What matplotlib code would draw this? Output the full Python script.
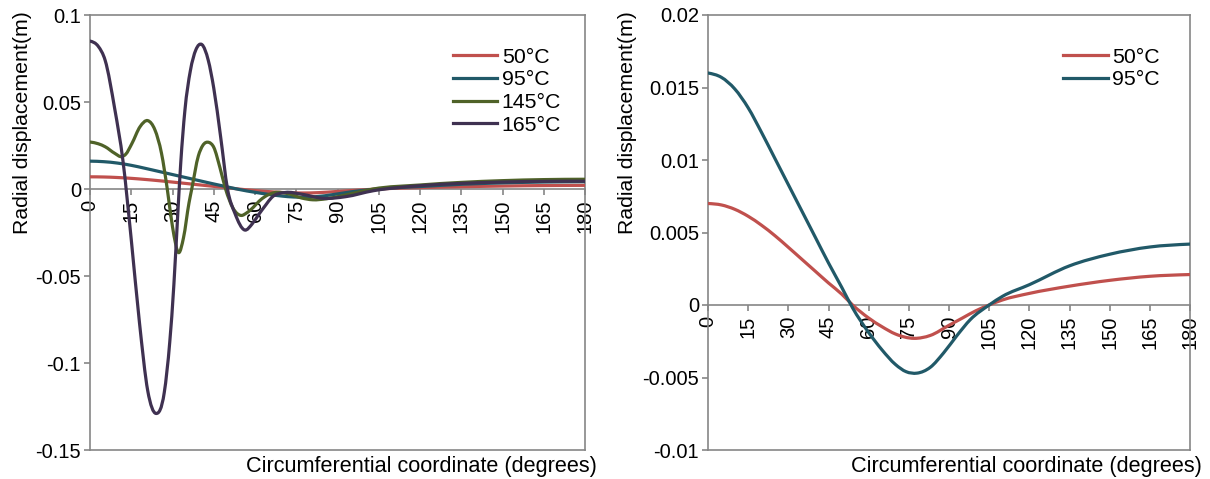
import numpy as np
import matplotlib.pyplot as plt
import matplotlib.lines as mlines
from matplotlib.path import Path
from matplotlib.patches import PathPatch
from matplotlib.ticker import FuncFormatter

plt.rcParams['font.family'] = ['Liberation Sans', 'DejaVu Sans']

# radial displacement vs circumferential angle (degrees)
angle_50 = [0, 5, 10, 15, 20, 25, 30, 35, 40, 45, 50, 54, 60, 65, 70, 77, 83,
            90, 95, 100, 105, 110, 120, 135, 150, 165, 180]
disp_50 = [0.0070, 0.0069, 0.0066, 0.00612, 0.0055, 0.00478, 0.00398, 0.00316,
           0.00234, 0.00152, 0.00074, 0.0, -0.0009, -0.0015, -0.0020, -0.0023,
           -0.0021, -0.0014, -0.0009, -0.0004, 0.0, 0.00035, 0.0008, 0.0013,
           0.0017, 0.00198, 0.0021]

angle_95 = [0, 5, 10, 15, 20, 25, 30, 35, 40, 45, 50, 54, 60, 65, 70, 74, 78,
            83, 88, 93, 98, 105, 110, 120, 135, 150, 165, 180]
disp_95 = [0.0160, 0.0157, 0.0149, 0.0136, 0.0119, 0.0101, 0.0083, 0.0065,
           0.0047, 0.0029, 0.0012, -0.0002, -0.0019, -0.0031, -0.0041, -0.0046,
           -0.0047, -0.0043, -0.0033, -0.0021, -0.0010, 0.0, 0.0006, 0.0014,
           0.0027, 0.0035, 0.0040, 0.0042]

angle_145 = [0, 3, 5.5, 9, 11.5, 13, 15.2, 18.2, 21, 23.6, 26, 28.1, 30, 32.3,
             34, 36, 37, 39.4, 41, 43.2, 45, 47.3, 49.3, 52, 55, 57, 59.4, 61.5,
             63.6, 67, 72, 77, 81, 86, 91, 97, 103, 120, 135, 150, 165, 180]
disp_145 = [0.027, 0.026, 0.0243, 0.0205, 0.0186, 0.020, 0.026, 0.0358, 0.0393,
            0.034, 0.0205, 0.0, -0.0217, -0.0366, -0.028, -0.008, 0.0, 0.019,
            0.025, 0.0268, 0.024, 0.012, 0.0, -0.011, -0.0152, -0.0137, -0.0105,
            -0.007, -0.0044, -0.0021, -0.0027, -0.0052, -0.0062, -0.0056,
            -0.0041, -0.0020, 0.0, 0.0023, 0.0038, 0.0048, 0.0054, 0.0056]

angle_165 = [0, 3, 5.5, 9, 12, 15, 18, 21, 24, 27, 29, 30.5, 32, 33, 34.5, 36.5,
             38.5, 40.7, 43, 45, 47.5, 50, 52.7, 56.3, 59, 61.2, 64, 66, 71, 77,
             85, 93, 103, 120, 135, 150, 165, 180]
disp_165 = [0.085, 0.082, 0.074, 0.046, 0.016, -0.029, -0.077, -0.116, -0.129,
            -0.117, -0.088, -0.055, -0.012, 0.015, 0.045, 0.068, 0.080, 0.083,
            0.074, 0.058, 0.030, 0.0, -0.014, -0.0236, -0.020, -0.015, -0.009,
            -0.005, -0.002, -0.003, -0.0054, -0.0044, -0.001, 0.0019, 0.0032,
            0.0040, 0.0044, 0.0045]

labels = ['50°C', '95°C', '145°C', '165°C']
colors = ['#C0504D', '#215968', '#4F6228', '#3F3151']
xticks = list(range(0, 181, 15))
yticks_left = [-0.15, -0.1, -0.05, 0, 0.05, 0.1]
yticks_right = [-0.01, -0.005, 0, 0.005, 0.01, 0.015, 0.02]

GRAY = '#868686'
LW = 2.3


def smooth_path(x, y):
    # cubic bezier segments through the points (like a smoothed excel line)
    x = np.asarray(x, float)
    y = np.asarray(y, float)
    h = np.diff(x)
    d = np.diff(y) / h
    m = np.empty_like(y)
    m[1:-1] = (h[1:] * d[:-1] + h[:-1] * d[1:]) / (h[:-1] + h[1:])
    m[0] = (3 * d[0] - m[1]) / 2
    m[-1] = (3 * d[-1] - m[-2]) / 2
    verts = [(x[0], y[0])]
    codes = [Path.MOVETO]
    for i in range(len(h)):
        verts += [(x[i] + h[i] / 3, y[i] + m[i] * h[i] / 3),
                  (x[i + 1] - h[i] / 3, y[i + 1] - m[i + 1] * h[i] / 3),
                  (x[i + 1], y[i + 1])]
        codes += [Path.CURVE4] * 3
    return Path(verts, codes)


def draw_curve(ax, x, y, color):
    ax.add_patch(PathPatch(smooth_path(x, y), fill=False, edgecolor=color,
                           lw=LW, zorder=3, capstyle='round', joinstyle='round'))


def setup(ax, yticks, ylabel_x):
    ax.set_xlim(0, 180)
    ax.set_ylim(yticks[0], yticks[-1])
    ax.set_xticks(xticks)
    ax.set_yticks(yticks)
    ax.yaxis.set_major_formatter(FuncFormatter(lambda v, p: '{:g}'.format(round(v, 4))))
    ax.spines['bottom'].set_position(('data', 0))
    for s in ax.spines.values():
        s.set_color(GRAY)
        s.set_linewidth(1.2)
    # bottom edge of the frame (the bottom spine sits on y=0)
    ax.plot([0, 1], [0, 0], transform=ax.transAxes, color=GRAY, lw=1.2,
            clip_on=False)
    ax.tick_params(axis='x', direction='out', length=4.5, width=1.2, color=GRAY,
                   labelrotation=90, labelsize=14.5, pad=3)
    ax.tick_params(axis='y', direction='out', length=4, width=1.2, color=GRAY,
                   labelsize=14.5, pad=2.5)
    ax.set_axisbelow(True)
    ax.set_ylabel('Radial displacement(m)', fontsize=15.3, va='center')
    ax.yaxis.set_label_coords(ylabel_x, 0.752)
    ax.set_xlabel('Circumferential coordinate (degrees)', fontsize=15.6,
                  ha='right', va='center')
    ax.xaxis.set_label_coords(1.025, -0.037)


fig = plt.figure(figsize=(12.1, 4.79), dpi=100)
ax1 = fig.add_axes([90 / 1210, 29 / 479, 495 / 1210, 435 / 479])
ax2 = fig.add_axes([708 / 1210, 29 / 479, 482 / 1210, 435 / 479])

setup(ax1, yticks_left, -0.137)
setup(ax2, yticks_right, -0.168)

series = [(angle_50, disp_50), (angle_95, disp_95),
          (angle_145, disp_145), (angle_165, disp_165)]
for (x, y), c in zip(series, colors):
    draw_curve(ax1, x, y, c)
for (x, y), c in zip(series[:2], colors[:2]):
    draw_curve(ax2, x, y, c)

handles = [mlines.Line2D([], [], color=c, lw=LW) for c in colors]
leg_kw = dict(loc='upper left', frameon=False, fontsize=15.3, handlelength=2.1,
              handletextpad=0.2, labelspacing=0.175, borderpad=0, borderaxespad=0)
ax1.legend(handles, labels, bbox_to_anchor=(0.733, 0.925), **leg_kw)
ax2.legend(handles[:2], labels[:2], bbox_to_anchor=(0.7365, 0.925), **leg_kw)

fig.savefig('out.png', dpi=100)
